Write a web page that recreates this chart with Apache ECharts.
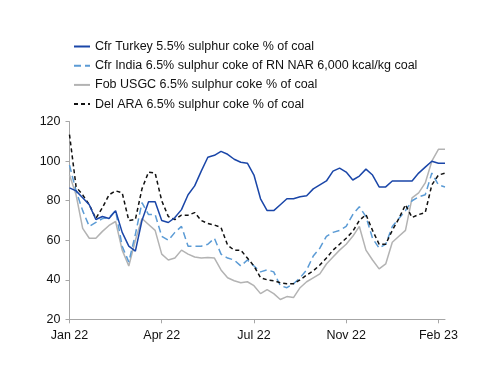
<!DOCTYPE html>
<html>
<head>
<meta charset="utf-8">
<script src="https://cdn.jsdelivr.net/npm/echarts@6/dist/echarts.min.js"></script>
<style>
html,body{margin:0;padding:0;background:#fff;}
#chart{width:500px;height:386px;}
</style>
</head>
<body>
<div id="chart"></div>
<script>
// Weekly categories
const categories = [
 "2022-01-14","2022-01-21","2022-01-28","2022-02-04","2022-02-11","2022-02-18","2022-02-25","2022-03-04","2022-03-11","2022-03-18",
 "2022-03-25","2022-04-01","2022-04-08","2022-04-15","2022-04-22","2022-04-29","2022-05-06","2022-05-13","2022-05-20","2022-05-27",
 "2022-06-03","2022-06-10","2022-06-17","2022-06-24","2022-07-01","2022-07-08","2022-07-15","2022-07-22","2022-07-29","2022-08-05",
 "2022-08-12","2022-08-19","2022-08-26","2022-09-02","2022-09-09","2022-09-16","2022-09-23","2022-09-30","2022-10-07","2022-10-14",
 "2022-10-21","2022-10-28","2022-11-04","2022-11-11","2022-11-18","2022-11-25","2022-12-02","2022-12-09","2022-12-16","2022-12-23",
 "2022-12-30","2023-01-06","2023-01-13","2023-01-20","2023-01-27","2023-02-03","2023-02-10","2023-02-17"
];
const tickLabels = ["Jan 22","Apr 22","Jul 22","Nov 22","Feb 23"];
const seriesNames = [
 "Cfr Turkey 5.5% sulphur coke % of coal",
 "Cfr India 6.5% sulphur coke of RN NAR 6,000 kcal/kg coal",
 "Fob USGC 6.5% sulphur coke % of coal",
 "Del ARA 6.5% sulphur coke % of coal"
];
const turkey = [86.5,85,81.5,78,70.5,72,71,75,64,57,54.5,70,79.5,79.5,70,69,71.5,75.5,83,87.5,95,102,103,105,103.5,101,99.5,99,93,81,75,75,78,81,81,82,82.5,86,88,90,95,96.5,94.5,90.5,92.5,96,93,87,87,90,90,90,90,94,97,100,99,99];
const india = [98,85,75,67,69,71,71.5,75,57,49,63,79,73,73,62,60,64,67,57,57,57,58,61,53,51,50,47,50,47,44,45,44,37,36,38,41,45,52,56,62,64,65,67,73,77,72,61,56,58,67,71,75,80,82,83,94,88,87];
const usgc = [93,83,66,61,61,64.5,67.5,69.5,55,47,60,71,68,65,53,50,51,55,53,51.5,51,51.3,51,45,41,39.5,38.5,39,37,33,35,33,30,31.5,31,36,39,41,43,48,51.5,55,58,62,67,55,50,45.5,48,59,62,65,81.5,84,89,100,106,106];
const ara = [113.5,87,83,78,71,76.5,83,85,84,70,70.5,86,94.5,94,80,72,70.5,72.7,72.7,74,70,68.5,67.7,66.5,57.5,55,55,51,47,41,40,39.5,38.5,38,38,40,42.4,44.5,47.5,51,55,58,61,64.5,70,73,65,58,58,65,71,78,71.5,73,74,88,93,94];

const FONT = "Liberation Sans";
const chart = echarts.init(document.getElementById('chart'), null, {renderer:'canvas'});
function mk(name, data, color, type, width){
  return {name:name, type:'line', data:data, symbol:'none', smooth:false,
    lineStyle:{color:color, width:width, type:type}, itemStyle:{color:color},
    emphasis:{disabled:true}, animation:false};
}
chart.setOption({
  animation:false,
  textStyle:{fontFamily:FONT},
  legend:{
    orient:'vertical', left:68, top:35, itemWidth:16, itemHeight:12, itemGap:6.2,
    itemStyle:{opacity:0},
    textStyle:{fontFamily:FONT, fontSize:12.5, color:'#111'},
    data:seriesNames
  },
  grid:{left:69.5, right:55, top:121.7, bottom:66.7, containLabel:false},
  xAxis:{
    type:'category', data:categories, boundaryGap:false,
    axisLine:{lineStyle:{color:'#a6a6a6'}},
    axisTick:{interval:13, length:4, lineStyle:{color:'#a6a6a6'}},
    axisLabel:{interval:13, color:'#111', fontFamily:FONT, fontSize:12.5, margin:10,
      formatter:function(v, i){ return tickLabels[Math.round(i/14)] || ''; }}
  },
  yAxis:{
    type:'value', min:20, max:120, interval:20,
    splitLine:{show:false},
    axisLine:{show:true, lineStyle:{color:'#a6a6a6'}},
    axisTick:{show:true, length:4, lineStyle:{color:'#a6a6a6'}},
    axisLabel:{color:'#111', fontFamily:FONT, fontSize:12.5, margin:9}
  },
  series:[
    mk(seriesNames[2], usgc, '#b3b3b3', 'solid', 1.5),
    mk(seriesNames[1], india, '#5b9bd5', [7,4], 1.5),
    mk(seriesNames[3], ara, '#111111', [4,3], 1.5),
    mk(seriesNames[0], turkey, '#1a46a8', 'solid', 1.5)
  ]
});
</script>
</body>
</html>
